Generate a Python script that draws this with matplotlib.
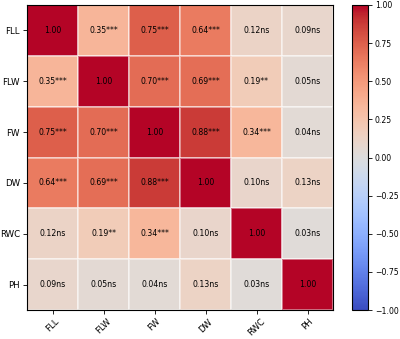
import matplotlib
matplotlib.use("Agg")
import matplotlib.pyplot as plt
import numpy as np

labels = ["FLL", "FLW", "FW", "DW", "RWC", "PH"]
corr = [
    [1.00, 0.35, 0.75, 0.64, 0.12, 0.09],
    [0.35, 1.00, 0.70, 0.69, 0.19, 0.05],
    [0.75, 0.70, 1.00, 0.88, 0.34, 0.04],
    [0.64, 0.69, 0.88, 1.00, 0.10, 0.13],
    [0.12, 0.19, 0.34, 0.10, 1.00, 0.03],
    [0.09, 0.05, 0.04, 0.13, 0.03, 1.00],
]
sig = [
    ["", "***", "***", "***", "ns", "ns"],
    ["***", "", "***", "***", "**", "ns"],
    ["***", "***", "", "***", "***", "ns"],
    ["***", "***", "***", "", "ns", "ns"],
    ["ns", "**", "***", "ns", "", "ns"],
    ["ns", "ns", "ns", "ns", "ns", ""],
]

data = np.array(corr)
fig = plt.figure(figsize=(4.0, 3.39), dpi=100)
ax = fig.add_axes([27/400, 1 - 310/339, 306/400, 305/339])
cax = fig.add_axes([352/400, 1 - 310/339, 16/400, 305/339])

mesh = ax.pcolormesh(data, cmap="coolwarm", vmin=-1, vmax=1,
                     edgecolors=(1, 1, 1, 0.45), linewidth=0.12)
ax.set_xlim(0, 6)
ax.set_ylim(6, 0)
ax.set_xticks(np.arange(6) + 0.5)
ax.set_yticks(np.arange(6) + 0.5)
ax.set_xticklabels(labels, rotation=45, fontsize=6.2)
ax.set_yticklabels(labels, fontsize=6.2)
ax.tick_params(length=3, width=0.6, pad=2)
for s in ax.spines.values():
    s.set_linewidth(0.8)

for i in range(6):
    for j in range(6):
        ax.text(j + 0.5, i + 0.5, f"{corr[i][j]:.2f}{sig[i][j]}",
                ha="center", va="center", fontsize=5.6, color="black")

cb = fig.colorbar(mesh, cax=cax)
cb.set_ticks(np.arange(-1, 1.01, 0.25))
cb.ax.tick_params(labelsize=5.6, length=3, width=0.6, pad=2)
cb.outline.set_linewidth(0.8)

fig.savefig("out.png", dpi=100)
